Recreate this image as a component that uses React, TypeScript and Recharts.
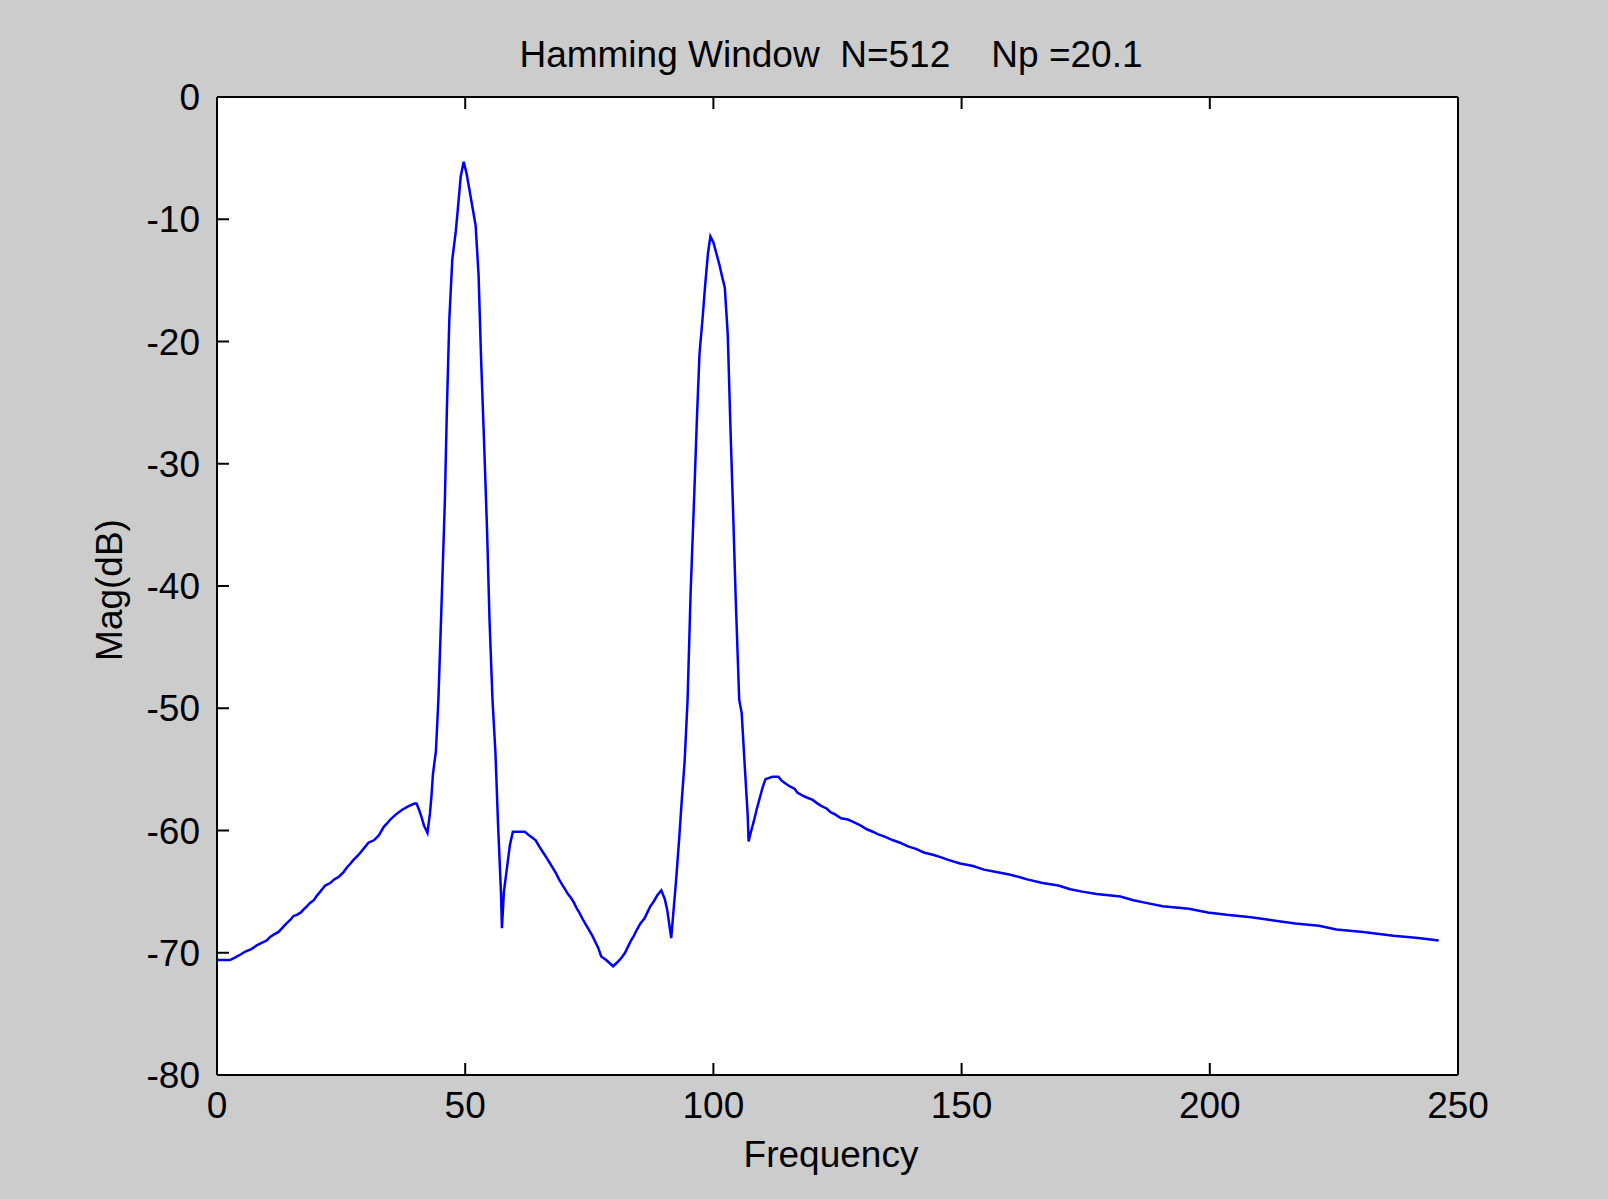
import { LineChart, Line, XAxis, YAxis, CartesianGrid } from "recharts";

// values (Frequency, Mag dB)
const freq = [
  0, 2.6, 3.6, 4.5, 5.7, 6.9, 8.0, 9.0, 10.0, 10.7, 11.5, 12.4, 13.3, 14.0, 14.8, 15.4, 16.1, 16.9, 17.6, 18.1,
  18.8, 19.5, 20.0, 20.8, 21.8, 22.8, 23.6, 24.5, 25.5, 26.2, 26.9, 27.5, 28.5, 29.5, 30.5, 31.6, 32.6, 33.6, 34.3, 34.9,
  36.0, 37.3, 38.6, 39.8, 40.2, 40.7, 41.2, 41.7, 42.4, 42.9, 43.2, 43.5, 44.1, 44.6, 45.3, 45.9, 46.3, 46.8, 47.4, 48.1,
  48.6, 49.1, 49.7, 50.3, 50.9, 51.5, 52.1, 52.7, 53.2, 53.8, 54.4, 54.9, 55.5, 56.1, 56.6, 57.2, 57.4, 57.8, 58.4, 59.0,
  59.6, 62.0, 63.2, 64.2, 64.9, 65.7, 66.5, 67.1, 67.7, 68.3, 68.9, 69.5, 70.1, 70.7, 71.3, 71.9, 72.5, 73.1, 73.6, 74.3,
  74.9, 75.6, 76.2, 76.8, 77.4, 78.4, 79.8, 80.6, 81.3, 82.2, 82.8, 83.4, 84.0, 84.6, 85.3, 86.1, 86.7, 87.3, 88.0, 88.7,
  89.5, 90.2, 90.7, 91.5, 92.5, 93.1, 93.6, 94.2, 94.8, 95.4, 96.1, 96.7, 97.2, 97.8, 98.3, 98.9, 99.4, 100.0, 100.6, 101.2,
  101.7, 102.3, 102.9, 103.4, 103.9, 104.5, 105.2, 105.7, 106.3, 106.9, 107.1, 107.5, 108.1, 108.7, 109.3, 109.9, 110.5, 111.9, 113.1, 113.7,
  114.3, 115.4, 116.4, 116.9, 117.8, 118.8, 120.0, 121.0, 121.8, 122.8, 123.6, 124.6, 125.7, 127.1, 128.7, 129.7, 130.9, 132.1, 133.1, 134.5,
  136.2, 137.6, 139.2, 140.8, 142.4, 144.4, 145.9, 147.3, 149.7, 152.3, 154.5, 157.0, 159.6, 161.6, 163.2, 166.3, 169.5, 171.9, 174.3, 177.2,
  182.0, 184.6, 186.9, 190.5, 195.8, 199.6, 203.4, 208.3, 211.9, 217.2, 222.0, 225.5, 230.9, 237.0, 242.0, 246.1,
];

const magDb = [
  -70.6, -70.6, -70.4, -70.2, -69.9, -69.7, -69.4, -69.2, -69.0, -68.7, -68.5, -68.3, -67.9, -67.6, -67.3, -67.0, -66.9, -66.7, -66.4, -66.2,
  -65.9, -65.7, -65.4, -65.0, -64.5, -64.3, -64.0, -63.8, -63.4, -63.0, -62.7, -62.4, -62.0, -61.5, -61.0, -60.8, -60.4, -59.7, -59.4, -59.1,
  -58.7, -58.3, -58.0, -57.8, -57.8, -58.3, -58.9, -59.6, -60.2, -58.6, -57.2, -55.4, -53.5, -49.3, -40.7, -33.1, -25.7, -18.2, -13.3, -11.0,
  -8.8, -6.5, -5.3, -6.3, -7.7, -9.1, -10.5, -14.6, -21.4, -28.2, -35.4, -42.8, -49.3, -53.7, -59.3, -65.0, -68.0, -65.0, -63.1, -61.2,
  -60.1, -60.1, -60.5, -60.8, -61.3, -61.8, -62.3, -62.7, -63.1, -63.5, -64.0, -64.4, -64.8, -65.2, -65.5, -65.9, -66.4, -66.8, -67.2, -67.7,
  -68.1, -68.6, -69.1, -69.6, -70.3, -70.6, -71.1, -70.8, -70.5, -70.0, -69.5, -69.0, -68.6, -68.1, -67.6, -67.2, -66.7, -66.2, -65.8, -65.3,
  -64.9, -65.6, -66.5, -68.8, -64.0, -60.7, -57.7, -54.4, -49.3, -40.7, -33.0, -26.1, -21.0, -18.2, -15.6, -12.8, -11.4, -11.9, -12.8, -13.7,
  -14.6, -15.6, -19.5, -26.6, -33.0, -41.1, -49.3, -50.4, -54.6, -58.7, -60.9, -60.2, -59.3, -58.3, -57.4, -56.5, -55.8, -55.6, -55.6, -55.9,
  -56.1, -56.4, -56.6, -56.9, -57.1, -57.3, -57.5, -57.8, -58.0, -58.2, -58.5, -58.7, -59.0, -59.1, -59.4, -59.6, -59.9, -60.1, -60.3, -60.5,
  -60.8, -61.0, -61.3, -61.5, -61.8, -62.0, -62.2, -62.4, -62.7, -62.9, -63.2, -63.4, -63.6, -63.8, -64.0, -64.3, -64.5, -64.8, -65.0, -65.2,
  -65.4, -65.7, -65.9, -66.2, -66.4, -66.7, -66.9, -67.1, -67.3, -67.6, -67.8, -68.1, -68.3, -68.6, -68.8, -69.0,
];

const xTicks = [0, 50, 100, 150, 200, 250];
const yTicks = [0, -10, -20, -30, -40, -50, -60, -70, -80];

const title = "Hamming Window  N=512    Np =20.1";
const xLabel = "Frequency";
const yLabel = "Mag(dB)";

const data = freq.map((f, i) => ({ f, mag: magDb[i] }));

const FONT = "'Liberation Sans', Arial, sans-serif";
const tickStyle = { fill: "#000", fontSize: 37, fontFamily: FONT };
const axisLine = { stroke: "#000", strokeWidth: 2 };
const tickLine = { stroke: "#000", strokeWidth: 2 };

export default function App() {
  return (
    <div style={{ position: "absolute", left: 0, top: 0, width: 1608, height: 1199, background: "#cccccc" }}>
      <LineChart width={1608} height={1199} data={data} margin={{ top: 96, right: 149, bottom: 24, left: 67 }}>
        <CartesianGrid horizontal={false} vertical={false} fill="#ffffff" stroke="none" />
        <XAxis
          xAxisId="bottom"
          dataKey="f"
          type="number"
          domain={[0, 250]}
          ticks={xTicks}
          interval={0}
          height={100}
          tickSize={-12}
          tickMargin={29}
          tick={tickStyle}
          axisLine={axisLine}
          tickLine={tickLine}
        />
        <XAxis
          xAxisId="top"
          orientation="top"
          dataKey="f"
          type="number"
          domain={[0, 250]}
          ticks={xTicks}
          interval={0}
          height={1}
          tickSize={-12}
          tickFormatter={() => ""}
          axisLine={axisLine}
          tickLine={tickLine}
        />
        <YAxis
          yAxisId="left"
          type="number"
          domain={[-80, 0]}
          ticks={yTicks}
          interval={0}
          width={150}
          tickSize={-12}
          tickMargin={29}
          tick={tickStyle}
          axisLine={axisLine}
          tickLine={tickLine}
        />
        <YAxis
          yAxisId="right"
          orientation="right"
          type="number"
          domain={[-80, 0]}
          ticks={yTicks}
          interval={0}
          width={1}
          tickSize={-12}
          tickFormatter={() => ""}
          axisLine={axisLine}
          tickLine={tickLine}
        />
        <Line
          xAxisId="bottom"
          yAxisId="left"
          type="linear"
          dataKey="mag"
          stroke="#0000ff"
          strokeWidth={2.5}
          dot={false}
          activeDot={false}
          isAnimationActive={false}
        />
      </LineChart>
      <svg width={1608} height={1199} style={{ position: "absolute", left: 0, top: 0, pointerEvents: "none" }}>
        <text x={831} y={67} textAnchor="middle" fontSize={37} fontFamily={FONT} fill="#000" style={{ whiteSpace: "pre" }}>
          {title}
        </text>
        <text x={831} y={1167} textAnchor="middle" fontSize={37} fontFamily={FONT} fill="#000">
          {xLabel}
        </text>
        <text transform="translate(122,590) rotate(-90)" textAnchor="middle" fontSize={37} fontFamily={FONT} fill="#000">
          {yLabel}
        </text>
      </svg>
    </div>
  );
}
